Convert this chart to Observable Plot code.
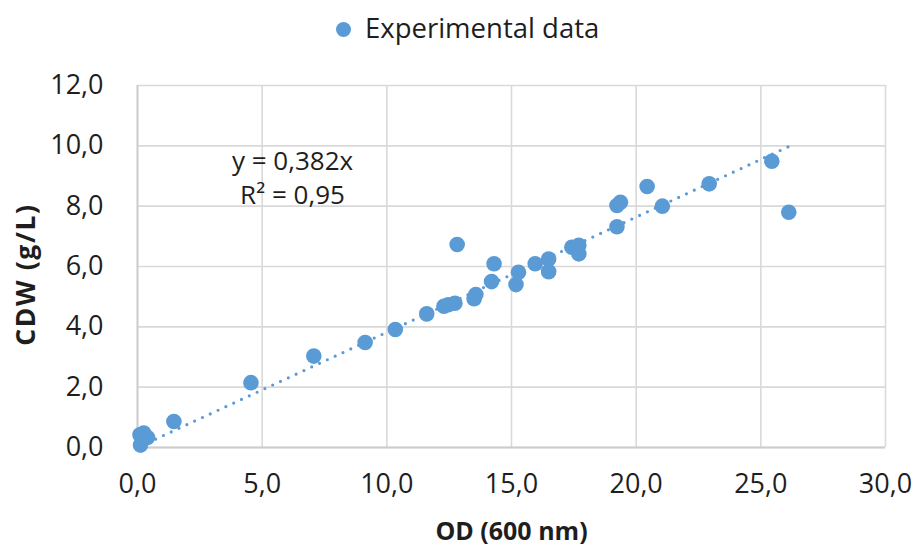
<!DOCTYPE html>
<html>
<head>
<meta charset="utf-8">
<script src="https://cdn.jsdelivr.net/npm/d3@7"></script>
<script src="https://cdn.jsdelivr.net/npm/@observablehq/plot@0.6"></script>
<style>
  body { margin: 0; background: #fff; font-family: "Open Sans", sans-serif; }
  #legend { position: relative; width: 918px; height: 60px; }
  #legend .dot { position: absolute; left: 336px; top: 22px; width: 15px; height: 15px; border-radius: 50%; background: #5B9BD5; }
  #legend .lab { position: absolute; left: 365px; top: 14px; font-size: 27.5px; line-height: 1; color: #1e1e1e; white-space: nowrap; }
  svg { display: block; }
</style>
</head>
<body>
<div id="legend"><div class="dot"></div><div class="lab">Experimental data</div></div>
<div id="chart"></div>
<script>
// OD (600 nm) values
const od = [0.12, 0.10, 0.25, 0.40, 1.46, 4.55, 7.07, 9.13, 10.34, 11.60, 12.29, 12.46, 12.73, 12.82,
            13.50, 13.57, 14.20, 14.30, 15.18, 15.28, 15.95, 16.49, 16.49, 17.42, 17.70, 17.70,
            19.23, 19.37, 20.44, 19.23, 21.05, 22.93, 25.44, 26.12];
// CDW (g/L) values
const cdw = [0.08, 0.42, 0.48, 0.33, 0.86, 2.15, 3.03, 3.48, 3.91, 4.43, 4.68, 4.73, 4.78, 6.73,
             4.93, 5.07, 5.50, 6.09, 5.40, 5.81, 6.09, 6.25, 5.83, 6.64, 6.70, 6.42,
             8.02, 8.13, 8.65, 7.32, 8.00, 8.74, 9.49, 7.80];
const xTicks = [0, 5, 10, 15, 20, 25, 30];
const yTicks = [0, 2, 4, 6, 8, 10, 12];
const slope = 0.382;
const eqText = "y = 0,382x";
const r2Text = "R² = 0,95";
const xTitle = "OD (600 nm)";
const yTitle = "CDW (g/L)";

const points = od.map((x, i) => ({x, y: cdw[i]}));
const trend = [d3.min(od), d3.max(od)].map(x => ({x, y: slope * x}));
const fmt = d => d.toFixed(1).replace(".", ",");
const blue = "#5B9BD5";
const grid = "#d9d9d9";
const ink = "#1e1e1e";

const chart = Plot.plot({
  width: 918,
  height: 489,
  marginTop: 25,
  marginBottom: 102,
  marginLeft: 137,
  marginRight: 33,
  x: {domain: [0, 30]},
  y: {domain: [0, 12]},
  style: {fontFamily: "Open Sans, sans-serif", fontSize: "27px", color: ink, background: "#fff"},
  marks: [
    Plot.gridX(xTicks, {stroke: grid, strokeOpacity: 1, strokeWidth: 1.6}),
    Plot.gridY(yTicks, {stroke: grid, strokeOpacity: 1, strokeWidth: 1.6}),
    Plot.ruleX([0], {stroke: "#cccccc", strokeWidth: 1.8}),
    Plot.ruleY([0], {stroke: "#cccccc", strokeWidth: 1.8}),
    Plot.axisX(xTicks, {tickSize: 0, tickPadding: 26, tickFormat: fmt, label: null, fontSize: 27, fill: ink}),
    Plot.axisY(yTicks, {tickSize: 0, tickPadding: 34, tickFormat: fmt, label: null, fontSize: 27, fill: ink}),
    Plot.line(trend, {x: "x", y: "y", stroke: blue, strokeWidth: 3.2, strokeDasharray: "0 8.6", strokeLinecap: "round"}),
    Plot.dot(points, {x: "x", y: "y", r: 7.8, fill: blue, stroke: "none"}),
    Plot.text([eqText], {frameAnchor: "top-left", dx: 155, dy: 76, fontSize: 26, fill: ink, textAnchor: "middle", lineAnchor: "middle"}),
    Plot.text([r2Text], {frameAnchor: "top-left", dx: 155, dy: 110, fontSize: 26, fill: ink, textAnchor: "middle", lineAnchor: "middle"}),
    Plot.text([xTitle], {frameAnchor: "bottom", dy: 84, fontSize: 25, fontWeight: "bold", fill: ink, textAnchor: "middle", lineAnchor: "middle"}),
    Plot.text([yTitle], {frameAnchor: "left", dx: -111, dy: 8, rotate: -90, fontSize: 26.5, fontWeight: "bold", fill: ink, textAnchor: "middle", lineAnchor: "middle"})
  ]
});
d3.select(chart).selectAll("text").filter(function () { return this.textContent === yTitle; })
  .attr("letter-spacing", "1.6px");
document.getElementById("chart").appendChild(chart);
</script>
</body>
</html>
